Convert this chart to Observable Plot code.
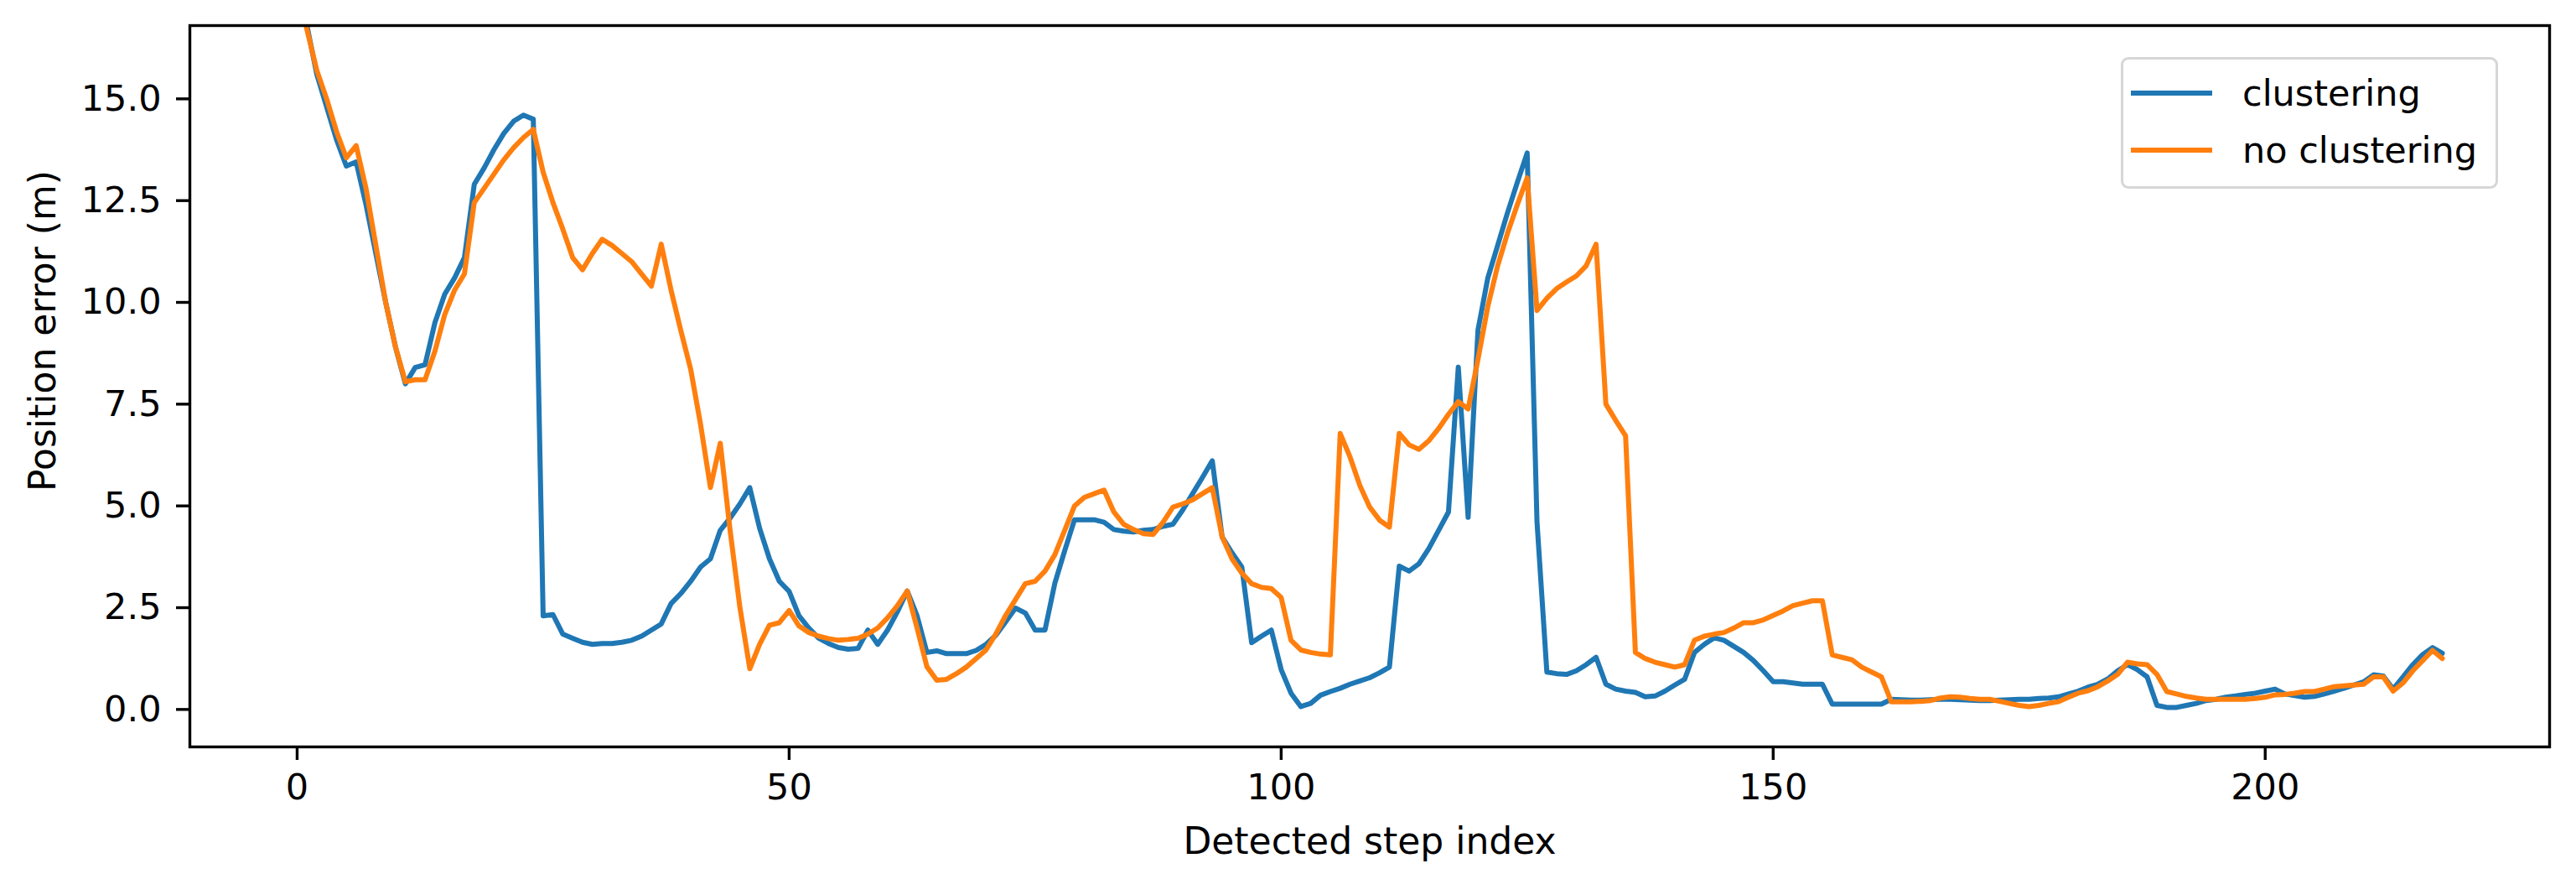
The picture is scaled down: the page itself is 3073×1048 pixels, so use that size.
<!DOCTYPE html>
<html>
<head>
<meta charset="utf-8">
<script src="https://cdn.jsdelivr.net/npm/d3@7"></script>
<script src="https://cdn.jsdelivr.net/npm/@observablehq/plot@0.6"></script>
<style>
  html, body { margin: 0; padding: 0; background: #fff; }
  #wrap { position: relative; width: 3073px; height: 1048px; font-family: "DejaVu Sans", sans-serif; }
  #legend { position: absolute; left: 2530px; top: 68px; width: 450px; height: 157px;
            box-sizing: border-box; border: 3px solid rgba(204,204,204,0.8); border-radius: 9px;
            background: rgba(255,255,255,0.8); }
  .item { position: absolute; left: 9px; height: 50px; display: flex; align-items: center;
          font-size: 43px; color: #000; white-space: nowrap; }
  .swatch { width: 97px; height: 6px; margin-right: 36px; }
</style>
</head>
<body>
<div id="wrap"></div>
<script>
// Series names and colours
const seriesNames = ["clustering", "no clustering"];
const seriesColors = ["#1f77b4", "#ff7f0e"];

// Position error (m) per detected step index 0..218
const clustering = [
  17.8, 16.8, 15.6, 14.8, 14.0, 13.35, 13.45, 12.4, 11.2, 10.0,
  8.9, 8.0, 8.4, 8.47, 9.5, 10.2, 10.6, 11.1, 12.9, 13.3,
  13.75, 14.15, 14.45, 14.6, 14.5, 2.3, 2.33, 1.85, 1.75, 1.65,
  1.6, 1.62, 1.62, 1.65, 1.7, 1.8, 1.95, 2.1, 2.6, 2.85,
  3.15, 3.5, 3.7, 4.4, 4.7, 5.05, 5.45, 4.45, 3.7, 3.15,
  2.9, 2.3, 2.0, 1.75, 1.62, 1.52, 1.48, 1.5, 1.95, 1.6,
  1.95, 2.4, 2.91, 2.3, 1.4, 1.44, 1.37, 1.37, 1.37, 1.45,
  1.6, 1.82, 2.15, 2.49, 2.37, 1.95, 1.95, 3.1, 3.9, 4.66,
  4.66, 4.66, 4.6, 4.42, 4.38, 4.36, 4.4, 4.42, 4.5, 4.55,
  4.9, 5.3, 5.7, 6.11, 4.24, 3.85, 3.5, 1.64, 1.8, 1.95,
  0.98, 0.4, 0.07, 0.15, 0.35, 0.44, 0.52, 0.62, 0.7, 0.78,
  0.9, 1.04, 3.52, 3.4, 3.58, 3.95, 4.4, 4.85, 8.41, 4.72,
  9.32, 10.6, 11.4, 12.2, 12.95, 13.67, 4.6, 0.92, 0.88, 0.86,
  0.95, 1.1, 1.28, 0.62, 0.5, 0.45, 0.42, 0.31, 0.33, 0.45,
  0.6, 0.74, 1.4, 1.6, 1.76, 1.7, 1.55, 1.4, 1.2, 0.95,
  0.68, 0.68, 0.65, 0.62, 0.62, 0.62, 0.13, 0.13, 0.13, 0.13,
  0.13, 0.13, 0.25, 0.24, 0.23, 0.23, 0.24, 0.25, 0.25, 0.24,
  0.23, 0.22, 0.22, 0.23, 0.24, 0.25, 0.25, 0.27, 0.28, 0.31,
  0.38, 0.45, 0.55, 0.62, 0.75, 0.95, 1.1, 0.98, 0.8, 0.1,
  0.05, 0.05, 0.1, 0.15, 0.22, 0.25, 0.3, 0.33, 0.37, 0.4,
  0.45, 0.5, 0.38, 0.34, 0.3, 0.32, 0.38, 0.45, 0.52, 0.6,
  0.68, 0.85, 0.82, 0.5, 0.8, 1.1, 1.35, 1.52, 1.38
];
const noClustering = [
  17.8, 16.7, 15.7, 15.0, 14.2, 13.55, 13.85, 12.8, 11.4, 10.0,
  8.9, 8.05, 8.1, 8.1, 8.8, 9.7, 10.3, 10.7, 12.45, 12.8,
  13.15, 13.5, 13.8, 14.05, 14.25, 13.2, 12.45, 11.8, 11.1, 10.8,
  11.2, 11.55, 11.4, 11.2, 11.0, 10.7, 10.4, 11.43, 10.3, 9.3,
  8.35, 7.0, 5.45, 6.54, 4.4, 2.5, 1.0, 1.6, 2.07, 2.13,
  2.43, 2.05, 1.89, 1.8, 1.74, 1.7, 1.72, 1.75, 1.85, 2.0,
  2.25, 2.55, 2.91, 2.0, 1.05, 0.72, 0.74, 0.88, 1.04, 1.25,
  1.46, 1.85, 2.31, 2.7, 3.09, 3.15, 3.4, 3.8, 4.4, 5.0,
  5.21, 5.3, 5.39, 4.85, 4.55, 4.42, 4.32, 4.3, 4.6, 4.97,
  5.05, 5.15, 5.3, 5.45, 4.24, 3.7, 3.35, 3.09, 3.0, 2.97,
  2.75, 1.7, 1.46, 1.4, 1.36, 1.34, 6.78, 6.2, 5.5, 4.97,
  4.65, 4.48, 6.78, 6.5, 6.39, 6.6, 6.9, 7.25, 7.56, 7.38,
  8.6, 9.9, 10.9, 11.7, 12.4, 13.06, 9.8, 10.1, 10.34, 10.5,
  10.65, 10.9, 11.43, 7.5, 7.1, 6.72, 1.4, 1.25, 1.16, 1.1,
  1.04, 1.1, 1.7, 1.8, 1.85, 1.89, 2.0, 2.13, 2.13, 2.2,
  2.31, 2.42, 2.55, 2.61, 2.67, 2.67, 1.34, 1.28, 1.22, 1.04,
  0.92, 0.8, 0.19, 0.19, 0.19, 0.2, 0.22, 0.28, 0.31, 0.3,
  0.27, 0.25, 0.25, 0.2, 0.15, 0.1, 0.07, 0.1, 0.15, 0.19,
  0.3, 0.4, 0.46, 0.56, 0.7, 0.86, 1.16, 1.12, 1.1, 0.86,
  0.44, 0.38, 0.32, 0.28, 0.25, 0.25, 0.25, 0.25, 0.25, 0.27,
  0.3, 0.36, 0.37, 0.4, 0.44, 0.44, 0.5, 0.56, 0.58, 0.6,
  0.62, 0.8, 0.8, 0.45, 0.65, 0.95, 1.2, 1.45, 1.25
];

// Axis ticks and labels
const xTicks = [0, 50, 100, 150, 200];
const yTicks = [0, 2.5, 5, 7.5, 10, 12.5, 15];
const xLabel = "Detected step index";
const yLabel = "Position error (m)";

// Build long table
const seriesValues = [clustering, noClustering];
const data = [];
seriesNames.forEach((name, s) => {
  seriesValues[s].forEach((v, i) => data.push({step: i, error: v, series: name}));
});

const chart = Plot.plot({
  width: 3073,
  height: 1048,
  marginLeft: 226,
  marginRight: 32,
  marginTop: 30,
  marginBottom: 158,
  style: {fontFamily: "DejaVu Sans", fontSize: "43px", color: "black", background: "white", overflow: "visible"},
  x: {domain: [-10.9, 228.9]},
  y: {domain: [-0.92, 16.8]},
  color: {domain: seriesNames, range: seriesColors},
  marks: [
    Plot.axisX({ticks: xTicks, tickSize: 16, tickPadding: 16, strokeWidth: 3.4, fontSize: 43, label: null}),
    Plot.axisY({ticks: yTicks, tickSize: 16, tickPadding: 18, strokeWidth: 3.4, fontSize: 43,
                tickFormat: d3.format(".1f"), label: null}),
    Plot.line(data, {x: "step", y: "error", z: "series", stroke: "series", strokeWidth: 6,
                     strokeLinejoin: "round", clip: true}),
    Plot.frame({stroke: "black", strokeWidth: 3.4}),
    Plot.text([xLabel], {text: d => d, frameAnchor: "bottom", lineAnchor: "top", dy: 96, fontSize: 44, fill: "black"}),
    Plot.text([yLabel], {text: d => d, frameAnchor: "left", textAnchor: "middle", lineAnchor: "top",
                         rotate: -90, dx: -192, dy: -66, fontSize: 44, fill: "black"})
  ]
});

const wrap = document.getElementById("wrap");
wrap.appendChild(chart);

// Legend (HTML overlay, upper right inside the axes)
const legend = document.createElement("div");
legend.id = "legend";
seriesNames.forEach((name, s) => {
  const item = document.createElement("div");
  item.className = "item";
  item.style.top = (15 + s * 68) + "px";
  const sw = document.createElement("span");
  sw.className = "swatch";
  sw.style.background = seriesColors[s];
  const label = document.createElement("span");
  label.textContent = name;
  item.appendChild(sw);
  item.appendChild(label);
  legend.appendChild(item);
});
wrap.appendChild(legend);
</script>
</body>
</html>
